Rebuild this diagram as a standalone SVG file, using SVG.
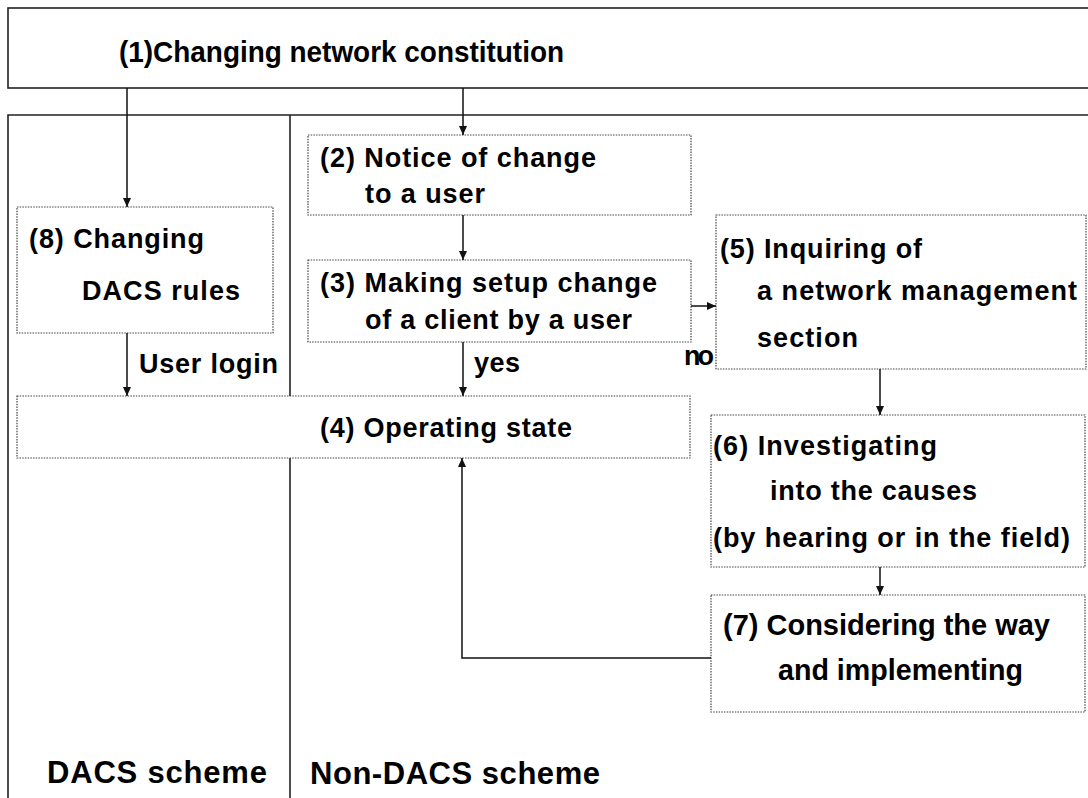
<svg xmlns="http://www.w3.org/2000/svg" width="1088" height="798" viewBox="0 0 1088 798">
  <style>
    .frame { fill: none; stroke: #222; stroke-width: 1.6; }
    .node { fill: #fff; stroke: #444; stroke-width: 1.2; stroke-dasharray: 1.5 1.2; }
    .edge { fill: none; stroke: #111; stroke-width: 1.5; }
    text { font-family: "Liberation Sans", Arial, sans-serif; font-weight: bold; fill: #000; }
    .t { font-size: 27px; }
    .big { font-size: 30px; }
    .lane { font-size: 31px; }
  </style>
  <defs>
    <marker id="arrow" markerUnits="userSpaceOnUse" markerWidth="10" markerHeight="10" refX="9" refY="4" orient="auto">
      <path d="M0,0 L9,4 L0,8 z" fill="#111"/>
    </marker>
  </defs>

  <rect width="1088" height="798" fill="#fff"/>

  <!-- swimlane frame -->
  <g id="lanes">
    <path class="frame" d="M8,798 V115 H1095"/>
    <line class="frame" x1="290" y1="115" x2="290" y2="798"/>
    <text class="lane" x="47" y="783" textLength="220">DACS scheme</text>
    <text class="lane" x="310" y="784" textLength="290">Non-DACS scheme</text>
  </g>

  <g id="n1">
    <rect class="frame" x="8" y="8" width="1090" height="80"/>
    <text class="big" x="119" y="62" textLength="445" lengthAdjust="spacingAndGlyphs">(1)Changing network constitution</text>
  </g>

  <g id="n2">
    <rect class="node" x="308" y="135" width="383" height="80"/>
    <text class="t" x="320" y="167" textLength="276">(2) Notice of change</text>
    <text class="t" x="365" y="203" textLength="120">to a user</text>
  </g>

  <g id="n3">
    <rect class="node" x="308" y="260" width="383" height="82"/>
    <text class="t" x="320" y="292" textLength="337">(3) Making setup change</text>
    <text class="t" x="365" y="329" textLength="267">of a client by a user</text>
  </g>

  <g id="n4">
    <rect class="node" x="17" y="396" width="673" height="62"/>
    <text class="t" x="320" y="437" textLength="252">(4) Operating state</text>
  </g>

  <g id="n5">
    <rect class="node" x="716" y="215" width="370" height="154"/>
    <text class="t" x="720" y="258" textLength="202">(5) Inquiring of</text>
    <text class="t" x="757" y="300" textLength="320">a network management</text>
    <text class="t" x="757" y="347" textLength="101">section</text>
  </g>

  <g id="n6">
    <rect class="node" x="711" y="415" width="374" height="152"/>
    <text class="t" x="713" y="455" textLength="224">(6) Investigating</text>
    <text class="t" x="770" y="500" textLength="207">into the causes</text>
    <text class="t" x="713" y="547" textLength="357">(by hearing or in the field)</text>
  </g>

  <g id="n7">
    <rect class="node" x="711" y="595" width="374" height="117"/>
    <text class="big" x="723" y="635" textLength="327" lengthAdjust="spacingAndGlyphs">(7) Considering the way</text>
    <text class="big" x="778" y="680" textLength="245" lengthAdjust="spacingAndGlyphs">and implementing</text>
  </g>

  <g id="n8">
    <rect class="node" x="17" y="207" width="256" height="126"/>
    <text class="t" x="29" y="248" textLength="175">(8) Changing</text>
    <text class="t" x="82" y="300" textLength="158">DACS rules</text>
  </g>

  <!-- connectors -->
  <g id="connectors">
    <line class="edge" x1="127" y1="88" x2="127" y2="207" marker-end="url(#arrow)"/>
    <line class="edge" x1="463" y1="88" x2="463" y2="135" marker-end="url(#arrow)"/>
    <line class="edge" x1="463" y1="215" x2="463" y2="260" marker-end="url(#arrow)"/>
    <line class="edge" x1="463" y1="342" x2="463" y2="396" marker-end="url(#arrow)"/>
    <line class="edge" x1="127" y1="333" x2="127" y2="396" marker-end="url(#arrow)"/>
    <line class="edge" x1="691" y1="306" x2="716" y2="306" marker-end="url(#arrow)"/>
    <line class="edge" x1="880" y1="369" x2="880" y2="415" marker-end="url(#arrow)"/>
    <line class="edge" x1="880" y1="567" x2="880" y2="595" marker-end="url(#arrow)"/>
    <path class="edge" d="M711,658 H462 V458" marker-end="url(#arrow)"/>
    <text class="t" x="474" y="372" textLength="46">yes</text>
    <text class="t" x="684" y="365" textLength="30">no</text>
    <text class="t" x="139" y="373" textLength="139">User login</text>
  </g>
</svg>
